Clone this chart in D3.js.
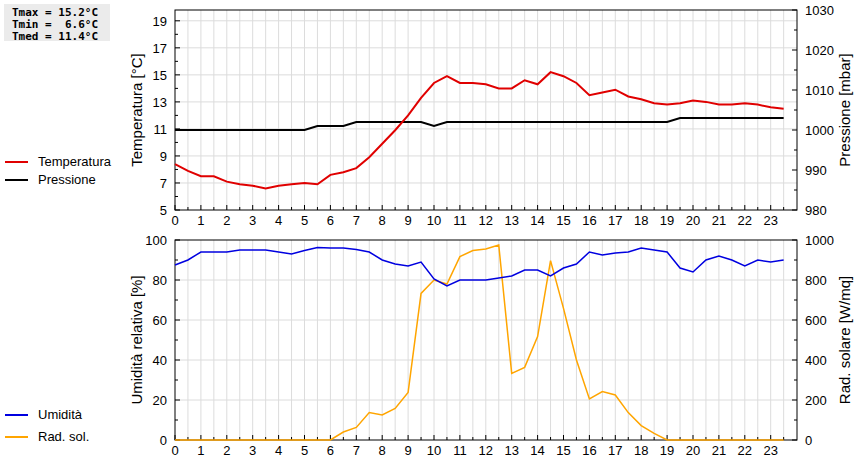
<!DOCTYPE html>
<html><head><meta charset="utf-8">
<script src="https://cdn.jsdelivr.net/npm/d3@7"></script>
<style>body{margin:0;background:#fff}text{font-family:"Liberation Sans",Arial,sans-serif}</style>
</head><body><svg id="c" width="860" height="460"></svg>
<script>
const hours = d3.range(48).map(i => i / 2);
const temperature = [8.4,7.9,7.5,7.5,7.1,6.9,6.8,6.6,6.8,6.9,7.0,6.9,7.6,7.8,8.1,8.9,9.9,10.9,12.0,13.3,14.4,14.9,14.4,14.4,14.3,14.0,14.0,14.6,14.3,15.2,14.9,14.4,13.5,13.7,13.9,13.4,13.2,12.9,12.8,12.9,13.1,13.0,12.8,12.8,12.9,12.8,12.6,12.5];
const pressure = [1000,1000,1000,1000,1000,1000,1000,1000,1000,1000,1000,1001,1001,1001,1002,1002,1002,1002,1002,1002,1001,1002,1002,1002,1002,1002,1002,1002,1002,1002,1002,1002,1002,1002,1002,1002,1002,1002,1002,1003,1003,1003,1003,1003,1003,1003,1003,1003];
const humidity = [87.5,90,94,94,94,95,95,95,94,93,94.7,96.3,96,96,95.3,94,90,88,87,89,80.5,77,80,80,80,81,82,85,85,82,86,88,94,92.5,93.5,94,96,95,94,86,84,90,92,90,87,90,89,90];
const solar = [0,0,0,0,0,0,0,0,0,0,0,0,0,40,63,137,125,158,238,733,800,780,917,947,955,975,333,363,517,897,658,400,205,242,225,137,72,33,0,0,0,0,0,0,0,0,0,0];
const hourTicks = d3.range(24);
const stats = ["Tmax = 15.2°C","Tmin =  6.6°C","Tmed = 11.4°C"];

const svg = d3.select("#c");
const L = 175, R = 797;
const x = d3.scaleLinear().domain([0, 24]).range([L, L + 24 * 25.9]);

function panel(top, bot, yl, yr, lt, lmin, rt, rmin, gridVals, ltitle, rtitle, fmtL) {
  const g = svg.append("g");
  g.selectAll(".vg").data(d3.range(1, 48).map(i => i / 2)).enter().append("line")
    .attr("x1", d => x(d)).attr("x2", d => x(d)).attr("y1", top).attr("y2", bot)
    .attr("stroke", "#dcdcdc");
  g.selectAll(".hg").data(gridVals).enter().append("line")
    .attr("x1", L).attr("x2", R).attr("y1", d => yl(d)).attr("y2", d => yl(d)).attr("stroke", "#dcdcdc");
  g.append("rect").attr("x", L).attr("y", top).attr("width", R - L).attr("height", bot - top)
    .attr("fill", "none").attr("stroke", "#000");
  lt.forEach(v => {
    g.append("line").attr("x1", L).attr("x2", L + 5).attr("y1", yl(v)).attr("y2", yl(v)).attr("stroke", "#000");
    g.append("text").attr("x", L - 8).attr("y", yl(v) + 5).attr("text-anchor", "end").attr("font-size", 13).text(fmtL(v));
  });
  lmin.forEach(v => g.append("line").attr("x1", L).attr("x2", L + 3).attr("y1", yl(v)).attr("y2", yl(v)).attr("stroke", "#000"));
  rt.forEach(v => {
    g.append("line").attr("x1", R - 5).attr("x2", R).attr("y1", yr(v)).attr("y2", yr(v)).attr("stroke", "#000");
    g.append("text").attr("x", R + 8).attr("y", yr(v) + 5).attr("font-size", 13).text(v);
  });
  rmin.forEach(v => g.append("line").attr("x1", R - 3).attr("x2", R).attr("y1", yr(v)).attr("y2", yr(v)).attr("stroke", "#000"));
  hourTicks.forEach(h => {
    g.append("line").attr("x1", x(h)).attr("x2", x(h)).attr("y1", bot).attr("y2", bot - 5).attr("stroke", "#000");
    g.append("line").attr("x1", x(h + 0.5)).attr("x2", x(h + 0.5)).attr("y1", bot).attr("y2", bot - 3).attr("stroke", "#000");
    g.append("text").attr("x", x(h)).attr("y", bot + 15).attr("text-anchor", "middle").attr("font-size", 13).text(h);
  });
  const cy = (top + bot) / 2;
  g.append("text").attr("transform", `translate(142,${cy}) rotate(-90)`).attr("text-anchor", "middle").attr("font-size", 15).text(ltitle);
  g.append("text").attr("transform", `translate(850,${cy}) rotate(-90)`).attr("text-anchor", "middle").attr("font-size", 15).text(rtitle);
}

const yT = d3.scaleLinear().domain([5, 19.8]).range([210, 10]);
const yP = d3.scaleLinear().domain([980, 1030]).range([210, 10]);
panel(10, 210, yT, yP, [5,7,9,11,13,15,17,19], [6,8,10,12,14,16,18], [980,990,1000,1010,1020,1030], [985,995,1005,1015,1025],
  [7,9,11,13,15,17,19], "Temperatura [°C]", "Pressione [mbar]", v => v);
const yH = d3.scaleLinear().domain([0, 100]).range([440, 240]);
const yS = d3.scaleLinear().domain([0, 1000]).range([440, 240]);
panel(240, 440, yH, yS, [0,20,40,60,80,100], [10,30,50,70,90], [0,200,400,600,800,1000], [100,300,500,700,900],
  [20,40,60,80], "Umidità relativa [%]", "Rad. solare [W/mq]", v => v);

const line = (ys, data) => d3.line().x((d, i) => x(hours[i])).y(d => ys(d))(data);
svg.append("path").attr("d", line(yP, pressure)).attr("fill", "none").attr("stroke", "#000").attr("stroke-width", 2);
svg.append("path").attr("d", line(yT, temperature)).attr("fill", "none").attr("stroke", "#e00000").attr("stroke-width", 2);
svg.append("path").attr("d", line(yS, solar)).attr("fill", "none").attr("stroke", "#ffa500").attr("stroke-width", 1.5);
svg.append("path").attr("d", line(yH, humidity)).attr("fill", "none").attr("stroke", "#0000e0").attr("stroke-width", 1.5);

[["Temperatura", "#e00000", 162], ["Pressione", "#000", 180], ["Umidità", "#0000e0", 415], ["Rad. sol.", "#ffa500", 437]].forEach(([t, c, yy]) => {
  svg.append("line").attr("x1", 5).attr("x2", 28).attr("y1", yy).attr("y2", yy).attr("stroke", c).attr("stroke-width", 2);
  svg.append("text").attr("x", 38).attr("y", yy + 4).attr("font-size", 13).text(t);
});
svg.append("rect").attr("x", 4).attr("y", 4).attr("width", 106).attr("height", 37).attr("fill", "#ebebeb");
stats.forEach((s, i) => svg.append("text").attr("x", 12).attr("y", 16 + i * 12)
  .attr("font-family", "'DejaVu Sans Mono',monospace").attr("font-weight", "bold").attr("font-size", 11)
  .attr("xml:space", "preserve").style("white-space", "pre").style("font-family", "'DejaVu Sans Mono',monospace").text(s));
</script></body></html>
